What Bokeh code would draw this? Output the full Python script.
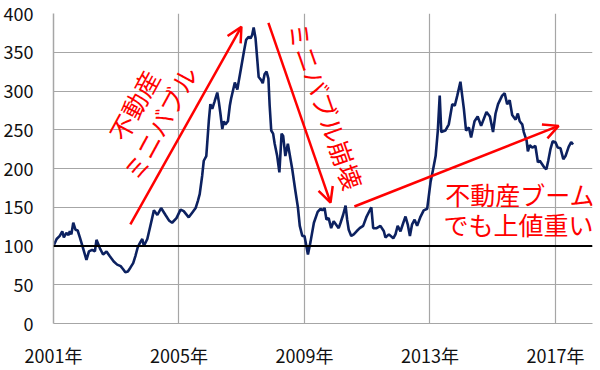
from bokeh.plotting import figure
from bokeh.models import (Range1d, FixedTicker, CustomJSTickFormatter, Span,
                          Arrow, OpenHead, Label)
from bokeh.embed import file_html
from bokeh.resources import INLINE
import math

# ---- data (decimal year, index) ----
years = (
    [2001.00, 2001.10, 2001.20, 2001.28, 2001.33, 2001.41, 2001.48, 2001.52, 2001.57, 2001.63, 2001.70, 2001.77, 2001.84, 2001.93]
    + [2002.05, 2002.13, 2002.23, 2002.32, 2002.37, 2002.48, 2002.58, 2002.69, 2002.79, 2002.92]
    + [2003.03, 2003.14, 2003.22, 2003.29, 2003.37, 2003.45, 2003.54, 2003.61, 2003.69, 2003.77, 2003.83, 2003.88, 2003.99]
    + [2004.07, 2004.20, 2004.31, 2004.43, 2004.57, 2004.68, 2004.78, 2004.92]
    + [2005.05, 2005.15, 2005.31, 2005.42, 2005.53, 2005.60, 2005.66, 2005.74, 2005.79, 2005.87, 2005.95]
    + [2006.00, 2006.06, 2006.13, 2006.22, 2006.27, 2006.32, 2006.38, 2006.43, 2006.48, 2006.56, 2006.62, 2006.66, 2006.78, 2006.86, 2006.91, 2006.98]
    + [2007.07, 2007.14, 2007.22, 2007.28, 2007.33, 2007.38, 2007.44, 2007.49, 2007.54, 2007.62, 2007.67, 2007.73, 2007.79, 2007.85, 2007.89, 2007.94]
    + [2008.00, 2008.05, 2008.13, 2008.20, 2008.27, 2008.32, 2008.39, 2008.47, 2008.61, 2008.71, 2008.79, 2008.85, 2008.93]
    + [2009.00, 2009.11, 2009.19, 2009.30, 2009.42, 2009.51, 2009.57, 2009.64, 2009.70, 2009.77, 2009.85, 2009.93]
    + [2010.09, 2010.15, 2010.23, 2010.31, 2010.36, 2010.41, 2010.49, 2010.57, 2010.66, 2010.76, 2010.87, 2010.98]
    + [2011.13, 2011.19, 2011.30, 2011.42, 2011.53, 2011.58, 2011.69, 2011.83, 2011.90, 2011.97]
    + [2012.06, 2012.15, 2012.22, 2012.29, 2012.36, 2012.43, 2012.51, 2012.59, 2012.70, 2012.80, 2012.91]
    + [2013.02, 2013.10, 2013.18, 2013.25, 2013.31, 2013.36, 2013.49, 2013.60, 2013.71, 2013.79, 2013.87, 2013.97]
    + [2014.08, 2014.15, 2014.24, 2014.31, 2014.42, 2014.52, 2014.63, 2014.80, 2014.91]
    + [2015.01, 2015.09, 2015.17, 2015.30, 2015.38, 2015.46, 2015.54, 2015.62, 2015.73, 2015.80, 2015.86, 2015.94, 2015.99]
    + [2016.08, 2016.12, 2016.18, 2016.26, 2016.36, 2016.44, 2016.50, 2016.65, 2016.71, 2016.77, 2016.84, 2016.91]
    + [2017.00, 2017.07, 2017.16, 2017.25, 2017.32, 2017.42, 2017.50, 2017.56]
)
index_values = (
    [100, 109, 113, 119, 111, 117, 114, 119, 115, 130, 121, 120, 111, 99]
    + [82, 93, 95, 93, 108, 97, 89, 93, 87, 80]
    + [76, 74, 70, 66, 67, 72, 78, 87, 99, 105, 109, 100, 109]
    + [123, 146, 140, 149, 140, 133, 130, 136]
    + [147, 145, 137, 143, 149, 158, 167, 191, 210, 216, 261]
    + [283, 277, 286, 298, 286, 271, 251, 261, 257, 261, 281, 290, 311, 302, 314, 330]
    + [351, 366, 370, 368, 372, 382, 368, 343, 318, 314, 310, 322, 325, 316, 281, 249]
    + [245, 232, 216, 195, 245, 242, 216, 232, 199, 171, 150, 126, 113]
    + [113, 89, 105, 130, 144, 148, 146, 149, 134, 136, 123, 132]
    + [123, 130, 140, 152, 134, 121, 113, 115, 119, 123, 126, 138]
    + [150, 123, 123, 126, 119, 111, 115, 110, 115, 126]
    + [119, 130, 138, 128, 113, 128, 134, 126, 138, 146, 148]
    + [183, 199, 216, 249, 294, 247, 249, 257, 283, 281, 294, 312]
    + [277, 249, 253, 240, 261, 267, 255, 273, 267]
    + [247, 271, 283, 294, 297, 283, 288, 269, 263, 271, 261, 257, 247]
    + [236, 222, 230, 227, 229, 208, 210, 201, 199, 210, 225, 235]
    + [234, 227, 226, 212, 216, 228, 234, 231]
)
assert len(years) == len(index_values)

x_ticks = [2001, 2005, 2009, 2013, 2017]
y_ticks = [0, 50, 100, 150, 200, 250, 300, 350, 400]
baseline = 100

# annotations: arrows (x0, y0, x1, y1) in data units
arrow_up = (2003.45, 128, 2006.99, 383)
arrow_down = (2007.85, 388, 2009.83, 156)
arrow_boom = (2010.59, 151, 2017.10, 255)

labels_text = ["不動産", "ミニバブル", "ミニバブル崩壊", "不動産ブーム", "でも上値重い"]
labels_x = [2003.55, 2004.38, 2009.68, 2015.88, 2015.82]
labels_y = [282, 259, 281, 167, 128]
labels_angle_deg = [61.5, 61.5, -70.6, 0, 0]

# ---- figure ----
RED = "#ff0000"
NAVY = "#0c2160"
FONT = "Noto Sans CJK JP"

p = figure(width=600, height=370, output_backend="svg", toolbar_location=None,
           x_range=Range1d(2001, 2018.18), y_range=Range1d(0, 400),
           min_border_left=53, min_border_right=8, min_border_top=13,
           min_border_bottom=38)
p.outline_line_color = None
p.background_fill_color = "white"
p.border_fill_color = "white"

for ax in (p.xaxis[0], p.yaxis[0]):
    ax.major_tick_line_color = None
    ax.minor_tick_line_color = None
    ax.major_tick_out = 0
    ax.major_tick_in = 0
    ax.minor_tick_out = 0
    ax.major_label_text_font = FONT
    ax.major_label_text_font_size = "18px"
    ax.major_label_text_color = "#111111"

p.xaxis.ticker = FixedTicker(ticks=x_ticks)
p.xaxis.formatter = CustomJSTickFormatter(code="return tick.toFixed(0) + '年';")
p.xaxis.axis_line_color = "#a6a6a6"
p.xaxis.major_label_standoff = 18

p.yaxis.ticker = FixedTicker(ticks=y_ticks)
p.yaxis.axis_line_color = "#a6a6a6"
p.yaxis.axis_line_width = 1.5
p.yaxis.major_label_standoff = 20

p.xgrid.grid_line_color = "#a6a6a6"
p.xgrid.grid_line_width = 1.2
p.ygrid.grid_line_color = "#a6a6a6"
p.ygrid.grid_line_width = 1.2

p.add_layout(Span(location=baseline, dimension="width", line_color="black",
                  line_width=2))

p.line(years, index_values, line_color=NAVY, line_width=2.6)

for (x0, y0, x1, y1) in (arrow_up, arrow_down, arrow_boom):
    p.add_layout(Arrow(end=OpenHead(size=15, line_color=RED, line_width=2.5),
                       x_start=x0, y_start=y0, x_end=x1, y_end=y1,
                       line_color=RED, line_width=2.5))

for t, x, y, a in zip(labels_text, labels_x, labels_y, labels_angle_deg):
    p.add_layout(Label(x=x, y=y, text=t, angle=math.radians(a),
                       text_align="center", text_baseline="middle",
                       text_color=RED, text_font=FONT,
                       text_font_size="25px"))

open("out.html", "w").write(file_html(p, INLINE))
